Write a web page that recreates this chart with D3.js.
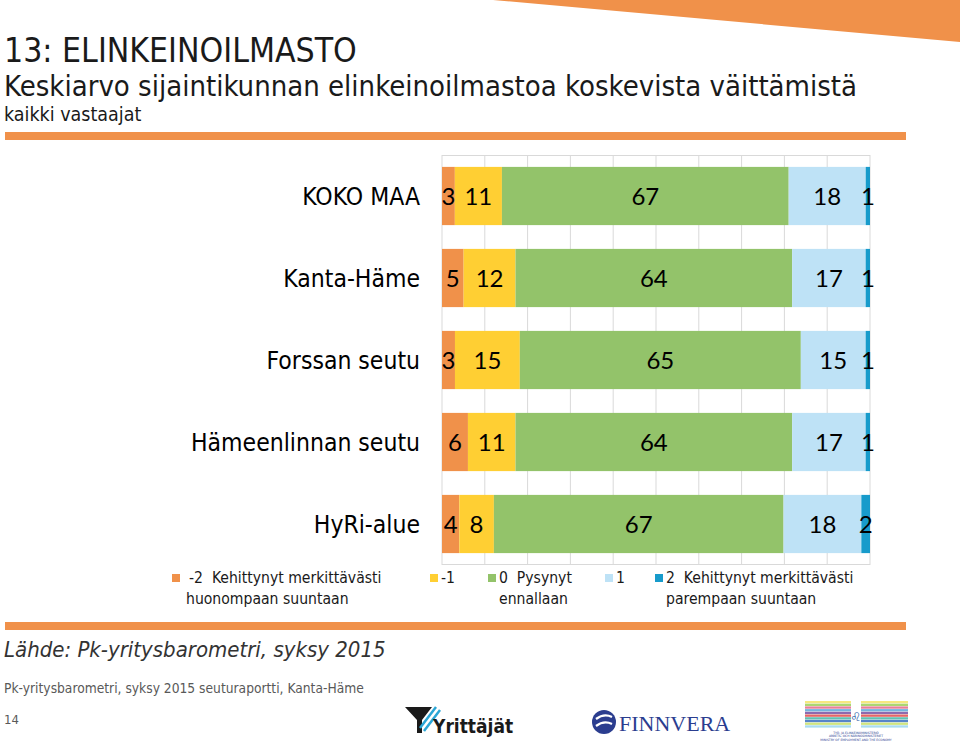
<!DOCTYPE html>
<html><head><meta charset="utf-8">
<script src="https://cdn.jsdelivr.net/npm/d3@7"></script>
<style>
html,body{margin:0;padding:0;background:#fff;}
svg{display:block;}
</style></head>
<body>
<svg id="chart" width="960" height="744"></svg>
<script>
// ---- data ----
const categories = ["KOKO MAA", "Kanta-Häme", "Forssan seutu", "Hämeenlinnan seutu", "HyRi-alue"];
const seriesKeys = ["-2", "-1", "0", "1", "2"];
const seriesNames = ["-2  Kehittynyt merkittävästi|huonompaan suuntaan", "-1", "0  Pysynyt|ennallaan", "1", "2  Kehittynyt merkittävästi|parempaan suuntaan"];
const valuesMinus2 = [3, 5, 3, 6, 4];
const valuesMinus1 = [11, 12, 15, 11, 8];
const values0 = [67, 64, 65, 64, 67];
const valuesPlus1 = [18, 17, 15, 17, 18];
const valuesPlus2 = [1, 1, 1, 1, 2];
const seriesColors = ["#F0914A", "#FFCF33", "#93C36A", "#BEE2F6", "#179BCB"];
const gridTicks = [0, 0.1, 0.2, 0.3, 0.4, 0.5, 0.6, 0.7, 0.8, 0.9, 1];

const allValues = [valuesMinus2, valuesMinus1, values0, valuesPlus1, valuesPlus2];
const table = categories.map((c, i) => {
  const row = {cat: c};
  seriesKeys.forEach((k, j) => row[k] = allValues[j][i]);
  return row;
});

const svg = d3.select("#chart");
const condensed = "'DejaVu Sans Condensed', 'DejaVu Sans', sans-serif";
const numFont = "Lato, 'Open Sans', sans-serif";

// ---- decorations ----
svg.append("polygon").attr("points", "493,0 960,0 960,42").attr("fill", "#F0914A");
svg.append("rect").attr("x", 5).attr("y", 132).attr("width", 901).attr("height", 8).attr("fill", "#F0914A");
svg.append("rect").attr("x", 5).attr("y", 622).attr("width", 901).attr("height", 8).attr("fill", "#F0914A");

svg.append("text").attr("x", 4).attr("y", 62).text("13: ELINKEINOILMASTO")
  .attr("font-family", condensed).attr("font-size", 33.5).attr("fill", "#1a1a1a");
svg.append("text").attr("x", 4).attr("y", 96).text("Keskiarvo sijaintikunnan elinkeinoilmastoa koskevista väittämistä")
  .attr("font-family", condensed).attr("font-size", 29).attr("fill", "#1a1a1a");
svg.append("text").attr("x", 4).attr("y", 121).text("kaikki vastaajat")
  .attr("font-family", condensed).attr("font-size", 19.5).attr("fill", "#1a1a1a");

// ---- chart ----
const x = d3.scaleLinear().domain([0, 1]).range([442, 870]);
const y = d3.scaleBand().domain(categories).range([155, 565]).paddingInner(0.29).paddingOuter(0.145);

const stack = d3.stack().keys(seriesKeys).offset(d3.stackOffsetExpand);
const stacked = stack(table);

// grid
const grid = svg.append("g");
grid.selectAll("line.v").data(gridTicks).join("line")
  .attr("x1", d => x(d)).attr("x2", d => x(d))
  .attr("y1", 155).attr("y2", 565)
  .attr("stroke", "#D9D9D9").attr("stroke-width", 1);
grid.append("line").attr("x1", x(0)).attr("x2", x(1)).attr("y1", 155.5).attr("y2", 155.5).attr("stroke", "#D9D9D9");
grid.append("line").attr("x1", x(0)).attr("x2", x(1)).attr("y1", 564.5).attr("y2", 564.5).attr("stroke", "#D9D9D9");

const layers = svg.append("g").selectAll("g").data(stacked).join("g")
  .attr("fill", (d, i) => seriesColors[i]);
layers.selectAll("rect").data(d => d.map(s => ({s, key: d.key}))).join("rect")
  .attr("x", d => x(d.s[0]))
  .attr("width", d => x(d.s[1]) - x(d.s[0]))
  .attr("y", d => y(d.s.data.cat))
  .attr("height", y.bandwidth());

const labels = svg.append("g");
stacked.forEach(layer => {
  layer.forEach(s => {
    labels.append("text")
      .attr("x", (x(s[0]) + x(s[1])) / 2)
      .attr("y", y(s.data.cat) + y.bandwidth() / 2 + 8.5)
      .attr("text-anchor", "middle")
      .attr("font-family", numFont).attr("font-size", 24).attr("fill", "#000")
      .text(s.data[layer.key]);
  });
});

// category axis
const yAxis = svg.append("g").attr("transform", "translate(420,0)")
  .call(d3.axisLeft(y).tickSize(0).tickPadding(0));
yAxis.select(".domain").remove();
yAxis.selectAll("text").attr("font-family", condensed).attr("font-size", 24.5).attr("fill", "#000")
  .attr("dy", "0.35em");

// legend
const legendX = [172, 430, 488, 605, 655];
const legend = svg.append("g");
seriesNames.forEach((name, i) => {
  const g = legend.append("g");
  g.append("rect").attr("x", legendX[i]).attr("y", 574).attr("width", 8).attr("height", 8).attr("fill", seriesColors[i]);
  const lines = name.split("|");
  lines.forEach((ln, k) => {
    g.append("text").attr("x", legendX[i] + (k === 0 ? 11 : (i === 0 ? 14 : 11)) + (k === 0 && i === 0 ? 6 : 0))
      .attr("y", 583 + k * 21)
      .attr("font-family", condensed).attr("font-size", 15.6).attr("fill", "#1a1a1a")
      .attr("xml:space", "preserve")
      .text(ln);
  });
});

// footer
svg.append("text").attr("x", 4).attr("y", 657).text("Lähde: Pk-yritysbarometri, syksy 2015")
  .attr("font-family", condensed).attr("font-size", 22).attr("font-style", "italic").attr("fill", "#333");
svg.append("text").attr("x", 4).attr("y", 693).text("Pk-yritysbarometri, syksy 2015 seuturaportti, Kanta-Häme")
  .attr("font-family", condensed).attr("font-size", 13.7).attr("fill", "#595959");
svg.append("text").attr("x", 4).attr("y", 724).text("14")
  .attr("font-family", condensed).attr("font-size", 13).attr("fill", "#595959");

// logos
const logo = svg.append("g");
logo.append("polygon").attr("points", "405,707 432,707 422,720 422,733 417,733 417,720").attr("fill", "#1a1a1a");
logo.append("line").attr("x1", 420).attr("y1", 728).attr("x2", 436).attr("y2", 707).attr("stroke", "#2aa6d6").attr("stroke-width", 2.5);
logo.append("line").attr("x1", 424).attr("y1", 731).attr("x2", 440).attr("y2", 710).attr("stroke", "#2aa6d6").attr("stroke-width", 2.5);
logo.append("text").attr("x", 433).attr("y", 733).text("Yrittäjät")
  .attr("font-family", "'DejaVu Sans Condensed', sans-serif").attr("font-weight", "bold").attr("font-size", 19).attr("fill", "#1a1a1a");
logo.append("circle").attr("cx", 604).attr("cy", 722).attr("r", 12).attr("fill", "#2b3d8f");
logo.append("path").attr("d", "M596,719 Q604,713 612,717 M596,726 Q604,720 612,724").attr("stroke", "#fff").attr("stroke-width", 2.2).attr("fill", "none");
logo.append("text").attr("x", 619).attr("y", 731).text("FINNVERA")
  .attr("font-family", "'Liberation Serif', serif").attr("font-size", 22).attr("fill", "#2b3d8f");
const stripeColors = ["#f4e46a", "#9ccf5a", "#e36a8a", "#5aa6d8", "#7a4fa0", "#e24a4a", "#47b5a5", "#3a6fc0", "#c8e06a", "#9ad6ee"];
stripeColors.forEach((c, i) => {
  logo.append("rect").attr("x", 805).attr("y", 701 + i * 2.7).attr("width", 103).attr("height", 2.3).attr("fill", c).attr("opacity", 0.85);
});
logo.append("rect").attr("x", 851).attr("y", 700).attr("width", 10).attr("height", 29).attr("fill", "#fff");
logo.append("text").attr("x", 856).attr("y", 721).attr("text-anchor", "middle").text("♌")
  .attr("font-family", "'DejaVu Sans', sans-serif").attr("font-size", 12).attr("fill", "#2b5fa8");
["TYÖ- JA ELINKEINOMINISTERIÖ", "ARBETS- OCH NÄRINGSMINISTERIET", "MINISTRY OF EMPLOYMENT AND THE ECONOMY"].forEach((t, i) => {
  logo.append("text").attr("x", 856).attr("y", 734 + i * 3.3).attr("text-anchor", "middle").text(t)
    .attr("font-family", "'DejaVu Sans', sans-serif").attr("font-size", 3).attr("fill", "#2b3d8f");
});
</script>
</body></html>
